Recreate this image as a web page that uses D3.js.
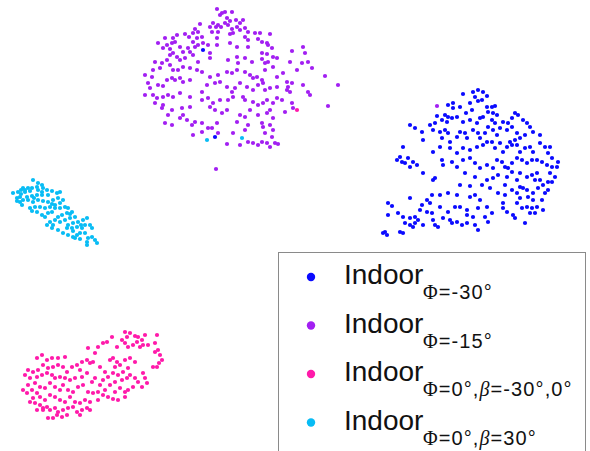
<!DOCTYPE html>
<html>
<head>
<meta charset="utf-8">
<script src="https://cdn.jsdelivr.net/npm/d3@7"></script>
<style>
  body { margin: 0; background: #fff; }
  svg { display: block; }
</style>
</head>
<body>
<svg id="chart" width="590" height="451"></svg>
<script>
// embedding coordinates (x to the right, y downwards)
const indoorM30 = [
  [478,90],[473,92],[483,92],[475,97],[463,94],[487,96],[482,100],[470,103],[478,101],
  [448,105],[453,103],[453,108],[460,107],[466,113],[472,110],[487,107],[492,107],[495,106],
  [488,112],[493,113],[497,115],[483,117],[492,120],[495,123],[445,115],[448,117],[437,116],
  [442,120],[447,122],[452,118],[457,117],[470,120],[477,123],[480,118],[463,122],[503,122],
  [508,123],[512,118],[515,113],[518,115],[523,120],[527,123],[530,127],[512,127],[517,133],
  [507,130],[500,128],[410,125],[415,128],[422,132],[430,125],[435,123],[433,130],[440,132],
  [445,130],[448,133],[442,138],[450,142],[457,137],[460,132],[465,133],[467,138],[473,130],
  [478,133],[480,138],[485,133],[488,127],[493,130],[497,135],[533,132],[540,135],[525,135],
  [520,138],[515,140],[510,142],[403,147],[423,140],[433,152],[440,147],[450,148],[457,153],
  [463,148],[470,150],[477,147],[483,145],[487,142],[492,142],[495,148],[500,143],[503,152],
  [507,147],[512,145],[517,145],[520,152],[525,148],[530,147],[533,152],[540,143],[545,147],
  [550,147],[548,153],[552,158],[558,162],[397,160],[402,162],[400,157],[405,163],[410,167],
  [413,162],[408,158],[417,165],[442,160],[443,165],[452,162],[457,167],[463,160],[470,158],
  [475,163],[480,168],[487,165],[493,168],[497,160],[502,162],[505,167],[508,168],[512,163],
  [517,158],[522,160],[527,163],[532,160],[537,160],[542,162],[547,165],[552,167],[557,167],
  [550,173],[555,177],[423,173],[435,178],[433,180],[465,173],[475,177],[487,180],[493,178],
  [498,175],[507,177],[512,172],[517,180],[520,173],[527,177],[532,175],[537,173],[535,180],
  [540,180],[548,182],[552,182],[520,187],[523,188],[410,198],[427,200],[432,195],[440,195],
  [448,193],[457,195],[470,197],[475,195],[480,200],[498,193],[505,195],[517,193],[527,190],
  [533,193],[538,188],[545,193],[548,190],[542,200],[533,200],[528,197],[520,198],[517,203],
  [503,203],[388,203],[392,206],[422,205],[430,203],[440,207],[448,212],[455,207],[460,207],
  [467,210],[478,208],[487,207],[503,208],[507,212],[527,207],[532,208],[537,207],[543,210],
  [522,208],[388,215],[398,213],[403,217],[410,218],[415,217],[418,220],[420,210],[427,212],
  [432,213],[433,220],[443,218],[450,220],[457,222],[467,215],[473,217],[485,217],[492,213],
  [513,215],[515,218],[530,213],[535,213],[405,223],[410,225],[413,227],[415,223],[423,225],
  [435,225],[438,227],[452,223],[462,225],[467,223],[475,225],[478,230],[488,222],[525,223],
  [385,232],[387,235],[383,233],[400,232],[403,233],
  [505,185],[512,190],[543,185],[490,188],[482,185],[470,186],[460,185],
  [203,50],[215,137]
];

const indoorM15 = [
  [217,9],[222,13],[225,12],[232,12],[220,15],[227,18],[230,21],[236,20],[243,20],[240,23],
  [225,23],[228,25],[213,23],[218,25],[200,24],[195,29],[198,32],[210,27],[216,27],[221,27],
  [245,28],[248,32],[240,30],[232,29],[237,27],[233,33],[218,32],[212,32],[255,33],[260,33],
  [270,34],[193,33],[165,38],[173,38],[177,35],[185,34],[189,37],[197,38],[172,43],[175,42],
  [167,45],[158,43],[202,37],[203,43],[193,42],[217,38],[230,34],[248,40],[258,39],[267,43],
  [268,45],[262,42],[245,37],[180,47],[188,48],[195,47],[198,45],[208,45],[217,45],[170,49],
  [163,48],[173,53],[183,52],[190,52],[210,53],[230,43],[237,47],[248,47],[262,53],[267,54],
  [272,48],[273,57],[292,51],[303,47],[305,53],[155,62],[162,63],[167,60],[170,55],[177,57],
  [180,60],[185,58],[193,55],[198,62],[210,58],[228,60],[237,57],[238,63],[245,58],[252,62],
  [262,59],[265,63],[268,62],[277,58],[290,62],[302,63],[308,62],[312,68],[297,70],[283,73],
  [145,75],[152,77],[153,70],[160,68],[170,65],[173,70],[178,70],[183,67],[190,68],[197,70],
  [202,72],[210,77],[218,75],[227,72],[232,73],[237,70],[245,72],[250,75],[253,78],[257,77],
  [262,80],[265,70],[273,67],[277,77],[287,82],[288,87],[292,83],[303,85],[325,76],[338,85],
  [148,83],[150,88],[158,85],[163,86],[167,80],[172,78],[175,80],[180,78],[183,82],[190,80],
  [202,92],[207,85],[215,83],[220,82],[227,87],[232,92],[235,88],[240,83],[247,87],[253,90],
  [258,85],[263,83],[265,90],[270,88],[277,87],[287,90],[290,92],[308,92],[310,95],[145,95],
  [153,95],[157,98],[163,97],[168,95],[173,97],[180,93],[190,97],[202,100],[208,98],[213,103],
  [220,100],[228,100],[233,97],[243,97],[245,100],[253,102],[258,105],[263,103],[267,100],
  [277,98],[273,103],[282,100],[292,103],[328,106],[155,103],[163,105],[162,108],[172,110],
  [182,108],[183,115],[190,107],[210,107],[215,110],[222,113],[227,110],[240,115],[245,117],
  [250,110],[258,115],[267,113],[270,110],[273,118],[285,112],[293,108],[168,115],[165,123],
  [172,125],[180,118],[187,120],[192,125],[195,122],[202,123],[208,128],[212,128],[217,123],
  [237,122],[248,125],[245,130],[262,123],[263,127],[270,125],[273,130],[193,135],[202,132],
  [218,133],[227,144],[233,133],[240,145],[248,142],[253,143],[258,145],[262,142],[265,133],
  [267,143],[270,147],[275,143],[278,144],[272,137],[216,169],
  [437,106]
];

const indoorB0 = [
  [125,332],[130,333],[127,337],[135,336],[138,337],[142,340],[145,335],[157,335],[148,345],
  [155,343],[125,343],[128,347],[133,345],[137,342],[140,347],[143,345],[122,340],[117,347],
  [112,337],[107,342],[103,343],[98,347],[88,348],[95,353],[158,350],[160,355],[155,352],
  [162,360],[157,367],[153,367],[159,363],[42,355],[37,358],[47,360],[52,358],[58,358],
  [65,357],[82,362],[87,360],[90,363],[93,362],[77,365],[80,370],[72,367],[67,372],[63,367],
  [58,365],[53,367],[48,368],[43,365],[38,370],[33,372],[28,370],[25,375],[30,378],[37,377],
  [42,375],[47,373],[52,375],[55,378],[60,377],[65,378],[70,380],[75,378],[82,377],[87,373],
  [92,382],[95,378],[100,367],[105,372],[110,360],[113,358],[117,362],[115,367],[120,365],
  [125,360],[130,358],[135,362],[128,368],[123,372],[118,375],[113,373],[108,377],[103,380],
  [100,385],[105,390],[110,385],[115,382],[122,380],[127,378],[130,375],[135,378],[138,382],
  [143,373],[145,378],[142,387],[147,383],[133,387],[128,390],[125,392],[120,388],[115,392],
  [23,390],[28,385],[27,393],[32,390],[35,383],[40,387],[45,388],[50,383],[55,387],[60,390],
  [63,385],[68,390],[73,392],[78,387],[83,385],[88,392],[93,393],[98,392],[103,395],[108,397],
  [98,400],[90,402],[85,400],[80,403],[75,402],[70,397],[65,402],[60,400],[55,397],[50,395],
  [45,400],[40,397],[37,393],[33,398],[35,403],[40,405],[43,408],[47,407],[50,410],[55,408],
  [58,412],[63,410],[68,408],[73,407],[77,412],[82,410],[87,408],[90,410],[80,415],[67,415],
  [62,417],[57,415],[53,418],[48,418],[43,410],[37,410],[30,402],[125,397],[118,400],[113,399],
  [297,110]
];

const indoorB30 = [
  [33,180],[38,183],[42,185],[37,187],[32,188],[28,188],[23,188],[21,190],[13,193],[18,192],
  [25,192],[30,191],[38,190],[43,188],[47,190],[52,191],[57,193],[60,192],[48,195],[42,195],
  [37,195],[32,196],[27,197],[20,197],[17,198],[17,201],[20,202],[22,205],[23,200],[28,200],
  [33,202],[38,200],[43,201],[48,202],[53,200],[58,198],[63,200],[60,203],[55,205],[50,207],
  [45,208],[40,207],[35,207],[30,208],[32,211],[37,212],[42,215],[45,217],[48,213],[52,212],
  [55,208],[60,208],[65,207],[68,208],[72,212],[67,213],[62,215],[58,217],[55,220],[50,222],
  [47,225],[53,225],[60,222],[65,220],[70,218],[75,217],[78,222],[83,220],[87,218],[73,223],
  [68,225],[67,228],[72,228],[77,227],[82,228],[85,225],[90,225],[92,228],[63,233],[68,235],
  [73,237],[77,235],[80,233],[85,233],[88,238],[92,237],[87,242],[95,240],[87,245],[75,238],
  [58,230],[52,228],[21,194],[25,190],[42,192],[34,198],[52,204],[70,214],[81,225],[73,231],
  [80,239],[97,243],
  [207,140],[242,138]
];

const groups = [indoorM30, indoorM15, indoorB0, indoorB30];
const colors = ["#0a0aff", "#a21ff2", "#ff1aaa", "#08bcf5"];
const subLabels = ["Φ=-30°", "Φ=-15°", "Φ=0°,β=-30°,0°", "Φ=0°,β=30°"];

const svg = d3.select("#chart");
const width = +svg.attr("width");
const height = +svg.attr("height");

const x = d3.scaleLinear().domain([0, 590]).range([0, width]);
const y = d3.scaleLinear().domain([0, 451]).range([0, height]);

// points
groups.forEach((pts, i) => {
  svg.append("g")
    .selectAll("circle")
    .data(pts)
    .enter()
    .append("circle")
    .attr("cx", d => x(d[0]))
    .attr("cy", d => y(d[1]))
    .attr("r", 2.1)
    .attr("fill", colors[i]);
});

// legend
const legend = svg.append("g");
legend.append("rect")
  .attr("x", 278.5).attr("y", 252.5)
  .attr("width", 307).attr("height", 220)
  .attr("fill", "#fff")
  .attr("stroke", "#8a8a8a")
  .attr("stroke-width", 1);

const rows = legend.selectAll("g.row")
  .data(subLabels)
  .enter()
  .append("g")
  .attr("class", "row")
  .attr("transform", (d, i) => "translate(0," + (i * 48.5) + ")");

rows.append("circle")
  .attr("cx", 311).attr("cy", 277)
  .attr("r", 4.2)
  .attr("fill", (d, i) => colors[i]);

rows.append("text")
  .attr("x", 344).attr("y", 284)
  .attr("font-family", "Liberation Sans, Arial, sans-serif")
  .attr("font-size", 28)
  .attr("fill", "#111")
  .text("Indoor");

const sub = rows.append("text")
  .attr("x", 423).attr("y", 299)
  .attr("font-family", "Liberation Sans, Arial, sans-serif")
  .attr("font-size", 20)
  .attr("letter-spacing", 1.1)
  .attr("fill", "#111");

sub.each(function (d) {
  const t = d3.select(this);
  d.split(/([Φβ])/).filter(s => s.length).forEach(s => {
    const span = t.append("tspan").text(s);
    if (s === "Φ") span.attr("font-family", "Liberation Serif, Times New Roman, serif");
    if (s === "β") span.attr("font-family", "Liberation Serif, Times New Roman, serif").attr("font-style", "italic");
  });
});
</script>
</body>
</html>
